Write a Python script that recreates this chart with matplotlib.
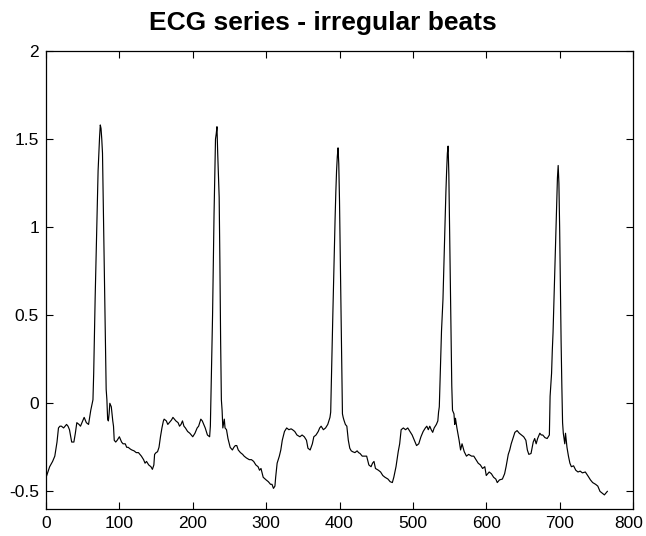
import matplotlib
matplotlib.use("Agg")
import matplotlib.pyplot as plt
import matplotlib.transforms as mtransforms

# ECG trace (sample index, amplitude)
ecg_x = [
    0, 1, 5, 9, 12, 15, 17, 19, 21, 24, 28, 30, 32, 35, 38, 40, 42, 45, 47, 50,
    52, 55, 58, 61, 64, 65, 66,
    67, 68, 69, 70, 71, 72, 73, 74, 75, 76, 77, 78, 79, 80, 81, 82, 83, 84, 85,
    86, 87, 88, 89, 91, 92, 93, 95, 97, 100, 103, 105, 108, 110, 112, 115, 117,
    120, 123, 126, 130, 133, 135, 137, 140, 143, 145, 147, 148, 150, 152, 154,
    156, 158, 160, 161, 164, 166, 168, 171, 173, 175, 177, 180, 182, 184, 186,
    188, 190, 193, 196, 200, 203, 206, 208, 211, 213, 215, 217, 220, 223, 224,
    225, 226,
    227, 228, 229, 230, 231, 232, 233, 234, 235, 236, 237, 238, 239, 240, 241,
    243, 244, 246, 248, 251, 254, 256, 258, 260, 262, 265, 268, 270, 273, 277,
    280, 283, 286, 289, 291, 293, 296, 300, 303, 306, 308, 310, 312, 313, 315,
    318, 320, 322, 325, 328, 331, 334, 336, 339, 342, 346, 349, 352, 355, 357,
    360, 363, 365, 368, 371, 373, 375, 378, 381, 384, 387, 388, 389,
    390, 391, 392, 393, 394, 395, 396, 397, 398, 399, 400, 401, 402, 403, 404,
    405, 406, 408, 410, 412, 414, 416, 418, 421, 424, 426, 428, 431, 434, 437,
    440, 443, 445, 447, 449, 453, 456, 459, 462, 466, 469, 472, 474, 477, 480,
    482, 484, 487, 490, 493, 496, 499, 502, 505, 508, 511, 514, 517, 519, 521,
    523, 525, 527, 529, 532, 534, 535, 536, 537,
    538, 539, 540, 541, 542, 543, 544, 545, 546, 547, 548, 549, 550, 551, 552,
    553, 554, 556, 557, 558, 560, 563, 565, 567, 570, 573, 576, 580, 583, 586,
    589, 592, 595, 598, 600, 602, 604, 607, 610, 613, 615, 618, 622, 625, 627,
    630, 632, 634, 637, 639, 642, 645, 648, 651, 654, 656, 658, 661, 664, 666,
    668, 670, 673, 675, 677, 680, 683, 686, 687, 689, 690, 691,
    692, 693, 694, 695, 696, 697, 698, 699, 700, 701, 702, 703, 704, 705, 707,
    708, 710, 712, 714, 716, 719, 722, 725, 728, 731, 735, 739, 742, 745, 749,
    752, 755, 758, 761, 763, 765,
]
ecg_y = [
    -0.42, -0.41, -0.36, -0.33, -0.30, -0.22, -0.14, -0.13, -0.13, -0.14, -0.12,
    -0.13, -0.15, -0.22, -0.22, -0.17, -0.11, -0.12, -0.13, -0.10, -0.08, -0.11,
    -0.12, -0.04, 0.02, 0.17, 0.40,
    0.60, 0.77, 0.96, 1.15, 1.32, 1.42, 1.51, 1.58, 1.56, 1.50, 1.42, 1.15,
    0.89, 0.60, 0.30, 0.08, 0.02, -0.09, -0.10, -0.06, 0.00, -0.01, -0.02,
    -0.10, -0.13, -0.21, -0.22, -0.21, -0.19, -0.22, -0.23, -0.23, -0.25, -0.25,
    -0.26, -0.265, -0.27, -0.28, -0.28, -0.30, -0.32, -0.34, -0.33, -0.35, -0.36,
    -0.375, -0.35, -0.29, -0.28, -0.275, -0.25, -0.19, -0.14, -0.10, -0.09,
    -0.10, -0.12, -0.11, -0.095, -0.08, -0.09, -0.10, -0.11, -0.13, -0.12, -0.10,
    -0.13, -0.14, -0.16, -0.17, -0.19, -0.17, -0.14, -0.13, -0.09, -0.10, -0.12,
    -0.14, -0.18, -0.19, -0.13, 0.08, 0.30,
    0.50, 0.80, 1.07, 1.30, 1.50, 1.53, 1.57, 1.42, 1.30, 1.17, 0.80, 0.35,
    0.02, -0.04, -0.14, -0.09, -0.14, -0.15, -0.20, -0.25, -0.265, -0.25, -0.24,
    -0.24, -0.265, -0.28, -0.29, -0.30, -0.31, -0.32, -0.32, -0.33, -0.35, -0.36,
    -0.38, -0.37, -0.42, -0.435, -0.445, -0.46, -0.46, -0.483, -0.47, -0.42,
    -0.34, -0.30, -0.265, -0.21, -0.16, -0.14, -0.15, -0.145, -0.15, -0.16,
    -0.18, -0.19, -0.18, -0.19, -0.21, -0.255, -0.265, -0.23, -0.19, -0.18,
    -0.16, -0.14, -0.13, -0.15, -0.14, -0.12, -0.08, -0.05, 0.15,
    0.33, 0.52, 0.70, 0.88, 1.05, 1.20, 1.32, 1.40, 1.45, 1.36, 1.15, 0.85,
    0.55, 0.23, -0.06, -0.08, -0.095, -0.12, -0.13, -0.21, -0.255, -0.27,
    -0.275, -0.28, -0.27, -0.28, -0.285, -0.30, -0.30, -0.30, -0.35, -0.36,
    -0.34, -0.33, -0.37, -0.38, -0.39, -0.41, -0.42, -0.43, -0.445, -0.45,
    -0.42, -0.36, -0.275, -0.23, -0.15, -0.14, -0.15, -0.14, -0.16, -0.18,
    -0.21, -0.24, -0.23, -0.19, -0.16, -0.14, -0.13, -0.15, -0.13, -0.15,
    -0.165, -0.14, -0.12, -0.10, -0.05, -0.02, 0.13,
    0.30, 0.41, 0.50, 0.59, 0.75, 0.90, 1.05, 1.20, 1.32, 1.42, 1.46, 1.30,
    1.00, 0.70, 0.40, 0.10, -0.04, -0.06, -0.12, -0.085, -0.14, -0.21, -0.265,
    -0.23, -0.275, -0.30, -0.29, -0.30, -0.30, -0.32, -0.34, -0.35, -0.37,
    -0.36, -0.41, -0.40, -0.39, -0.40, -0.42, -0.43, -0.45, -0.435, -0.43,
    -0.40, -0.36, -0.29, -0.265, -0.23, -0.19, -0.165, -0.155, -0.17, -0.18,
    -0.19, -0.21, -0.265, -0.29, -0.285, -0.22, -0.20, -0.23, -0.20, -0.17,
    -0.18, -0.18, -0.195, -0.20, -0.18, 0.04, 0.17, 0.30, 0.40,
    0.55, 0.70, 0.85, 1.00, 1.15, 1.28, 1.35, 1.25, 1.00, 0.65, 0.35, 0.10,
    -0.11, -0.17, -0.23, -0.17, -0.25, -0.30, -0.34, -0.36, -0.355, -0.38,
    -0.39, -0.385, -0.395, -0.39, -0.415, -0.435, -0.45, -0.46, -0.47, -0.50,
    -0.51, -0.52, -0.51, -0.50,
]

x_ticks = [0, 100, 200, 300, 400, 500, 600, 700, 800]
y_ticks = [-0.5, 0, 0.5, 1, 1.5, 2]
y_tick_labels = ["-0.5", "0", "0.5", "1", "1.5", "2"]

plt.rcParams["font.family"] = ["Liberation Sans", "DejaVu Sans"]

fig = plt.figure(figsize=(6.46, 5.36), dpi=100)
ax = fig.add_axes([0.0712, 0.0504, 0.9087, 0.8545])

ax.plot(ecg_x, ecg_y, color="black", linewidth=0.85)

ax.set_xlim(0, 800)
ax.set_ylim(-0.6, 2)
ax.set_xticks(x_ticks)
ax.set_yticks(y_ticks)
ax.set_yticklabels(y_tick_labels)
ax.tick_params(direction="in", top=True, right=True, length=5, width=0.8,
               labelsize=12.5, pad=5)
for side in ax.spines.values():
    side.set_linewidth(0.9)

# keep the last x label inside the canvas
last = ax.get_xticklabels()[-1]
last.set_transform(last.get_transform() +
                   mtransforms.ScaledTranslation(-4 / 100, 0, fig.dpi_scale_trans))

fig.text(0.5, 1 - 30 / 536, "ECG series - irregular beats", ha="center",
         va="baseline", fontsize=19, fontweight="bold")

fig.savefig("out.png", dpi=100)
